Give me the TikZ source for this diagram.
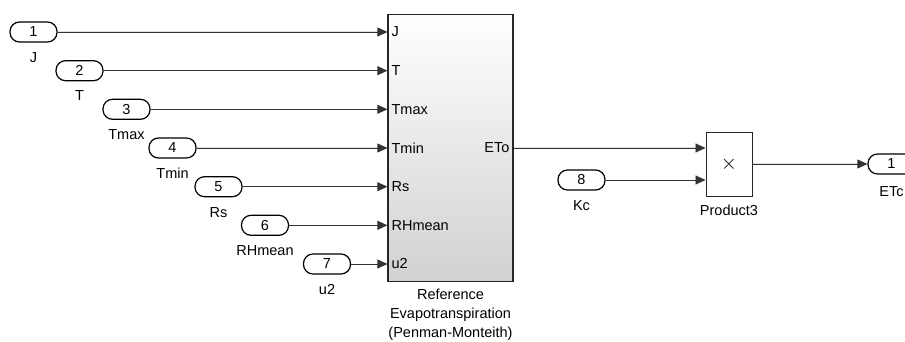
\documentclass[tikz,border=0pt]{standalone}
\usepackage{fontspec}
\setmainfont{Liberation Sans}
\usetikzlibrary{arrows.meta,positioning}
\tikzset{
  inport/.style={draw=black, line width=1.2pt, rounded corners=9.5pt, fill=white, minimum width=47pt, minimum height=20pt, inner sep=0pt, font=\fontsize{14.5}{16}\selectfont},
  plbl/.style={inner sep=1pt, font=\fontsize{14.5}{17}\selectfont, text height=10.5pt, text depth=3pt},
  inlbl/.style={inner sep=1pt, font=\fontsize{14.5}{17}\selectfont},
  subsys/.style={draw=black!85, line width=1.2pt, top color=white, bottom color=black!18, minimum width=125pt, minimum height=267pt},
  prodbox/.style={draw=black!85, line width=0.9pt, fill=white, minimum width=46pt, minimum height=64pt, inner sep=0pt, font=\fontsize{22}{22}\selectfont},
  sig/.style={-{Triangle[length=10pt,width=9pt]}, line width=0.8pt, draw=black!80, fill=black}
}
\begin{document}
\begin{tikzpicture}[x=1pt,y=-1pt]
\useasboundingbox (0,0) rectangle (905,342);
\node[subsys] (blk) at (450.5,148) {};
\node[below=6pt of blk, align=center, inner sep=1pt, font=\fontsize{14.5}{19}\selectfont] (blkname) {Reference\\Evapotranspiration\\(Penman-Monteith)};
% inports of the subsystem
\node[inport] (p1) at (33.5,32) {1};
\node[inport] (p2) at (79.5,70.7) {2};
\node[inport] (p3) at (126.5,109.3) {3};
\node[inport] (p4) at (172.5,148) {4};
\node[inport] (p5) at (218.5,186.7) {5};
\node[inport] (p6) at (265,225.3) {6};
\node[inport] (p7) at (327,264) {7};
\node[plbl, below=8pt of p1] (l1) {J};
\node[plbl, below=8pt of p2] (l2) {T};
\node[plbl, below=8pt of p3] (l3) {Tmax};
\node[plbl, below=8pt of p4] (l4) {Tmin};
\node[plbl, below=8pt of p5] (l5) {Rs};
\node[plbl, below=8pt of p6] (l6) {RHmean};
\node[plbl, below=8pt of p7] (l7) {u2};
\node[inlbl, anchor=west] (i1) at ([xshift=3pt]blk.west |- p1) {J};
\node[inlbl, anchor=west] (i2) at ([xshift=3pt]blk.west |- p2) {T};
\node[inlbl, anchor=west] (i3) at ([xshift=3pt]blk.west |- p3) {Tmax};
\node[inlbl, anchor=west] (i4) at ([xshift=3pt]blk.west |- p4) {Tmin};
\node[inlbl, anchor=west] (i5) at ([xshift=3pt]blk.west |- p5) {Rs};
\node[inlbl, anchor=west] (i6) at ([xshift=3pt]blk.west |- p6) {RHmean};
\node[inlbl, anchor=west] (i7) at ([xshift=3pt]blk.west |- p7) {u2};
\node[inlbl, anchor=east] (eto) at ([xshift=-3pt]blk.east) {ETo};
\draw[sig] (p1) -- (blk.west |- p1);
\draw[sig] (p2) -- (blk.west |- p2);
\draw[sig] (p3) -- (blk.west |- p3);
\draw[sig] (p4) -- (blk.west |- p4);
\draw[sig] (p5) -- (blk.west |- p5);
\draw[sig] (p6) -- (blk.west |- p6);
\draw[sig] (p7) -- (blk.west |- p7);
% product and outport
\node[prodbox] (prod) at (729,164) {$\times$};
\node[plbl, below=7pt of prod] (prodname) {Product3};
\node[inport] (p8) at (581.5,180) {8};
\node[plbl, below=8pt of p8] (l8) {Kc};
\node[inport] (o1) at (891.5,164) {1};
\node[plbl, below=10pt of o1] (lo1) {ETc};
\draw[sig] (blk.east) -- (prod.west |- blk.east);
\draw[sig] (p8) -- (prod.west |- p8);
\draw[sig] (prod) -- (o1);
\end{tikzpicture}
\end{document}
